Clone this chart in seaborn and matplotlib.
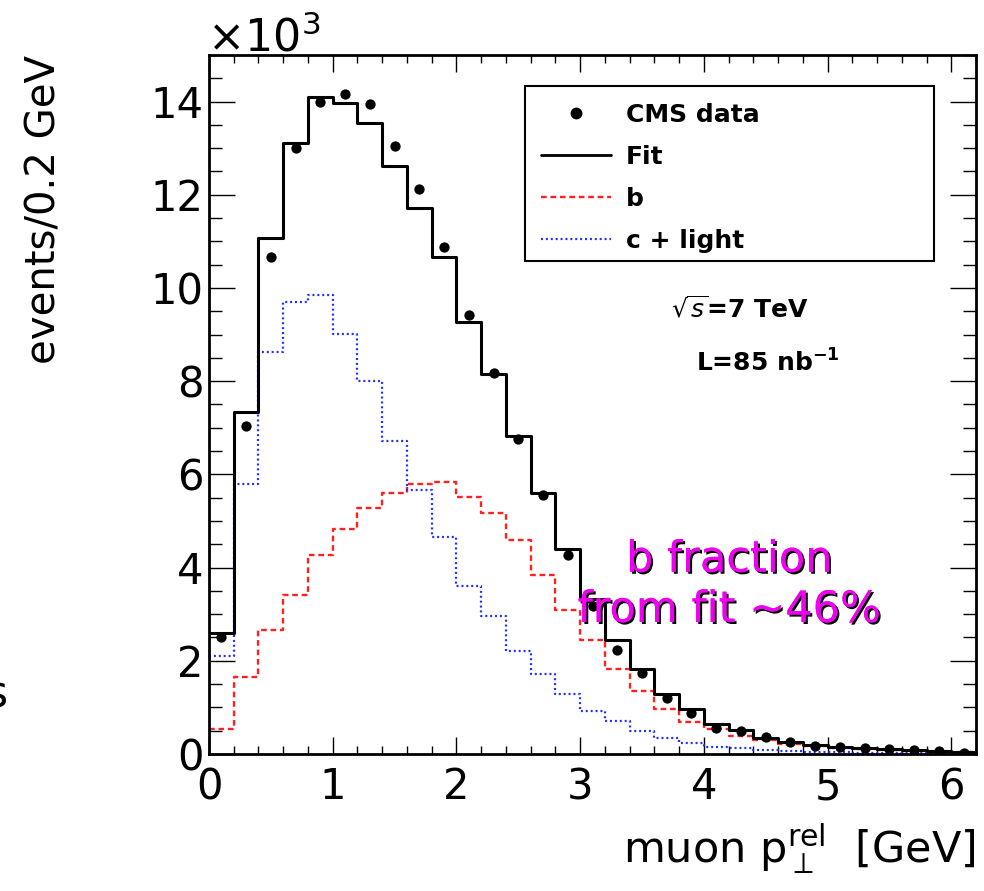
import numpy as np
import pandas as pd
import matplotlib
matplotlib.use("Agg")
import matplotlib.pyplot as plt
import matplotlib.patheffects as pe
from matplotlib.lines import Line2D
from matplotlib.patches import Rectangle
from matplotlib.ticker import MultipleLocator
import seaborn as sns

# ---- data (in units of 10^3 events / 0.2 GeV) ----
bin_edges = [round(0.2 * i, 2) for i in range(32)]
bin_centers = [round(0.2 * i + 0.1, 2) for i in range(31)]

data_values = [2.52, 7.03, 10.67, 13.0, 14.0, 14.17, 13.94, 13.05, 12.13, 10.88,
               9.43, 8.17, 6.75, 5.55, 4.26, 3.18, 2.24, 1.74, 1.2, 0.88,
               0.56, 0.49, 0.37, 0.26, 0.17, 0.15, 0.13, 0.11, 0.09, 0.07, 0.03]
fit_values = [2.6, 7.33, 11.07, 13.12, 14.1, 13.96, 13.53, 12.62, 11.72, 10.67,
              9.27, 8.15, 6.82, 5.59, 4.39, 3.33, 2.45, 1.83, 1.29, 0.97,
              0.65, 0.52, 0.35, 0.25, 0.2, 0.15, 0.12, 0.1, 0.08, 0.06, 0.05]
b_values = [0.54, 1.66, 2.65, 3.42, 4.28, 4.82, 5.27, 5.59, 5.8, 5.83,
            5.51, 5.18, 4.6, 3.85, 3.1, 2.45, 1.83, 1.35, 0.97, 0.69,
            0.54, 0.39, 0.3, 0.22, 0.17, 0.13, 0.1, 0.08, 0.07, 0.05, 0.04]
cl_values = [2.1, 5.8, 8.62, 9.7, 9.85, 9.01, 8.0, 6.71, 5.66, 4.65,
             3.61, 2.97, 2.22, 1.72, 1.29, 0.92, 0.71, 0.49, 0.35, 0.24,
             0.15, 0.12, 0.09, 0.07, 0.05, 0.04, 0.03, 0.02, 0.02, 0.02, 0.02]

legend_labels = ["CMS data", "Fit", "b", "c + light"]

df = pd.DataFrame({"pt": bin_centers, "data": data_values, "fit": fit_values,
                   "b": b_values, "cl": cl_values})

sns.set_theme(style="ticks")
plt.rcParams["font.family"] = ["DejaVu Sans"]
plt.rcParams["mathtext.fontset"] = "dejavusans"
plt.rcParams["text.color"] = "black"
plt.rcParams["axes.labelcolor"] = "black"
plt.rcParams["xtick.color"] = "black"
plt.rcParams["ytick.color"] = "black"

fig = plt.figure(figsize=(9.84, 8.91), dpi=100)
ax = fig.add_axes([0.2124, 0.1538, 0.7795, 0.7845])

red_ls = (0, (2.4, 1.6))
blue_ls = (0, (0.9, 1.3))

sns.histplot(data=df, x="pt", weights="b", bins=bin_edges, element="step",
             fill=False, color="#ff2020", linewidth=1.7, linestyle=red_ls, ax=ax)
sns.histplot(data=df, x="pt", weights="cl", bins=bin_edges, element="step",
             fill=False, color="#2030ff", linewidth=1.6, linestyle=blue_ls, ax=ax)
sns.histplot(data=df, x="pt", weights="fit", bins=bin_edges, element="step",
             fill=False, color="black", linewidth=2.2, ax=ax)
sns.scatterplot(data=df, x="pt", y="data", color="black", s=55,
                edgecolor="black", linewidth=0, ax=ax, zorder=5)

ax.set_xlim(0, 6.2)
ax.set_ylim(0, 15)
ax.xaxis.set_major_locator(MultipleLocator(1))
ax.xaxis.set_minor_locator(MultipleLocator(0.2))
ax.yaxis.set_major_locator(MultipleLocator(2))
ax.yaxis.set_minor_locator(MultipleLocator(0.5))
ax.tick_params(axis="both", which="both", direction="in", top=True, right=True,
               colors="black", labelcolor="black", width=1.0, labelsize=30)
ax.tick_params(axis="x", which="major", length=12, pad=9)
ax.tick_params(axis="x", which="minor", length=6)
ax.tick_params(axis="y", which="major", length=19, pad=4)
ax.tick_params(axis="y", which="minor", length=9.5)
for sp in ax.spines.values():
    sp.set_linewidth(2.0)
    sp.set_color("black")

ax.set_xlabel(r"muon p$_{\perp}^{\rm rel}$  [GeV]", fontsize=31, loc="right",
              color="black")
ax.xaxis.set_label_coords(1.0, -0.096)
ax.set_ylabel("events/0.2 GeV", fontsize=29, loc="top", color="black")
ax.yaxis.set_label_coords(-0.188, 1.0)

ax.text(-0.003, 0.992, r"$\times$10$^{3}$", transform=ax.transAxes,
        fontsize=32, ha="left", va="bottom", color="black")

# legend box
ax.add_patch(Rectangle((0.412, 0.705), 0.533, 0.25, transform=ax.transAxes,
                       fill=False, edgecolor="black", linewidth=1.5, zorder=6))
handles = [
    Line2D([], [], color="black", marker="o", linestyle="none", markersize=7.5),
    Line2D([], [], color="black", linewidth=2.0),
    Line2D([], [], color="#ff2020", linewidth=1.7, linestyle=red_ls),
    Line2D([], [], color="#2030ff", linewidth=1.6, linestyle=blue_ls),
]
leg = ax.legend(handles, legend_labels, loc="upper left",
                bbox_to_anchor=(0.433, 0.932), frameon=False, borderpad=0,
                borderaxespad=0, handlelength=2.8, handletextpad=0.6,
                labelspacing=0.72, prop={"size": 18, "weight": "bold"},
                labelcolor="black")

ax.text(0.602, 0.636, r"$\sqrt{s}$=7 TeV", transform=ax.transAxes,
        fontsize=18, fontweight="bold", ha="left", va="center", color="black")
ax.text(0.635, 0.56, r"L=85 nb$^{\mathbf{-1}}$", transform=ax.transAxes,
        fontsize=18, fontweight="bold", ha="left", va="center", color="black")

ax.text(0.678, 0.242, "b fraction\nfrom fit ~46%", transform=ax.transAxes,
        fontsize=31, color="#f000f0", ha="center", va="center",
        linespacing=1.25, zorder=7,
        path_effects=[pe.withSimplePatchShadow(offset=(1.5, -1.5),
                                               shadow_rgbFace="black", alpha=1.0),
                      pe.Normal()])

fig.text(-0.016, 0.2065, "s", fontsize=32, ha="left", va="baseline",
         color="black")

fig.savefig("out.png", dpi=100, facecolor="white")
